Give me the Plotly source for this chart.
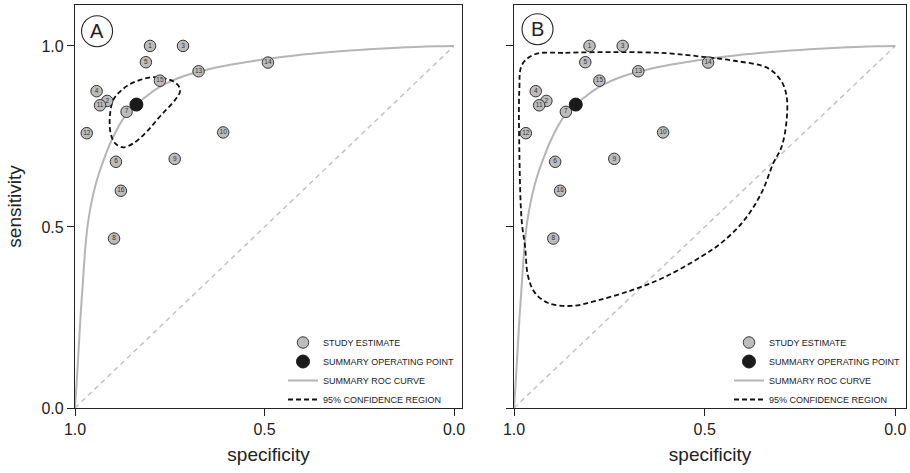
import plotly.graph_objects as go

# ---------------- data ----------------
study_ids = [str(i) for i in range(1, 17)]
study_spec = [0.802, 0.915, 0.715, 0.943, 0.813, 0.892, 0.864, 0.897,
              0.737, 0.609, 0.934, 0.969, 0.674, 0.491, 0.776, 0.879]
study_sens = [1.000, 0.848, 1.000, 0.875, 0.955, 0.680, 0.818, 0.468,
              0.688, 0.761, 0.836, 0.759, 0.930, 0.954, 0.904, 0.600]

summary_spec = [0.838]
summary_sens = [0.838]

roc_spec = [1.0, 0.995, 0.990, 0.985, 0.979, 0.973, 0.966, 0.957, 0.946, 0.933,
            0.919, 0.904, 0.887, 0.867, 0.838, 0.815, 0.790, 0.760, 0.730,
            0.700, 0.650, 0.600, 0.550, 0.500, 0.450, 0.400, 0.350, 0.300,
            0.250, 0.200, 0.150, 0.100, 0.050, 0.0]
roc_sens = [0.0, 0.080, 0.170, 0.260, 0.350, 0.440, 0.510, 0.565, 0.615, 0.660,
            0.700, 0.738, 0.774, 0.808, 0.838, 0.858, 0.878, 0.896, 0.910,
            0.921, 0.935, 0.946, 0.955, 0.963, 0.970, 0.976, 0.981, 0.985,
            0.989, 0.992, 0.995, 0.997, 0.999, 1.0]

# 95% confidence region, panel A
crA_spec = [0.828, 0.793, 0.749, 0.727, 0.723, 0.736, 0.776, 0.811, 0.846,
            0.873, 0.894, 0.906, 0.908, 0.899, 0.881, 0.859, 0.828]
crA_sens = [0.906, 0.914, 0.906, 0.890, 0.874, 0.851, 0.805, 0.763, 0.731,
            0.720, 0.731, 0.759, 0.805, 0.851, 0.874, 0.892, 0.906]

# 95% confidence region, panel B
crB_spec = [0.945, 0.865, 0.734, 0.602, 0.505, 0.422, 0.333, 0.298, 0.285,
            0.285, 0.298, 0.320, 0.351, 0.396, 0.456, 0.509, 0.602, 0.689,
            0.778, 0.848, 0.910, 0.945, 0.963, 0.971, 0.980, 0.986, 0.986,
            0.979, 0.945]
crB_sens = [0.977, 0.981, 0.983, 0.980, 0.970, 0.959, 0.938, 0.901, 0.860,
            0.796, 0.722, 0.676, 0.594, 0.519, 0.456, 0.418, 0.363, 0.326,
            0.298, 0.282, 0.290, 0.318, 0.363, 0.446, 0.519, 0.713, 0.878,
            0.948, 0.977]

chance_spec = [1.0, 0.0]
chance_sens = [0.0, 1.0]

x_ticks = [1.0, 0.5, 0.0]
x_ticktext = ["1.0", "0.5", "0.0"]
y_ticks = [0.0, 0.5, 1.0]
y_ticktext = ["0.0", "0.5", "1.0"]

legend_labels = ["STUDY ESTIMATE", "SUMMARY OPERATING POINT",
                 "SUMMARY ROC CURVE", "95% CONFIDENCE REGION"]
panel_labels = ["A", "B"]

# ---------------- styling ----------------
FONT = "Liberation Sans, Arial, Helvetica, sans-serif"
INK = "#222222"
GREY_FILL = "#bcbcbc"
CURVE_GREY = "#b5b5b5"

fig = go.Figure()

panels = [
    dict(xa="x", ya="y", legend="legend", cr_spec=crA_spec, cr_sens=crA_sens),
    dict(xa="x2", ya="y2", legend="legend2", cr_spec=crB_spec, cr_sens=crB_sens),
]

for p in panels:
    xa, ya, lg = p["xa"], p["ya"], p["legend"]
    # chance diagonal
    fig.add_trace(go.Scatter(x=chance_spec, y=chance_sens, mode="lines",
                             line=dict(color="#c4c4c4", width=1.5, dash="5px,4px"),
                             xaxis=xa, yaxis=ya, showlegend=False, hoverinfo="skip"))
    # summary ROC curve
    fig.add_trace(go.Scatter(x=roc_spec, y=roc_sens, mode="lines",
                             line=dict(color=CURVE_GREY, width=2, shape="spline", smoothing=0.8),
                             name=legend_labels[2], legend=lg, legendrank=3,
                             xaxis=xa, yaxis=ya))
    # confidence region
    fig.add_trace(go.Scatter(x=p["cr_spec"], y=p["cr_sens"], mode="lines",
                             line=dict(color="#111111", width=1.8, dash="5px,3px",
                                       shape="spline", smoothing=1.0),
                             name=legend_labels[3], legend=lg, legendrank=4,
                             xaxis=xa, yaxis=ya))
    # study estimates
    fig.add_trace(go.Scatter(x=study_spec, y=study_sens, mode="markers",
                             marker=dict(size=11.5, color=GREY_FILL,
                                         line=dict(color="#333333", width=1)),
                             name=legend_labels[0], legend=lg, legendrank=1,
                             xaxis=xa, yaxis=ya))
    fig.add_trace(go.Scatter(x=study_spec, y=study_sens, mode="text",
                             text=study_ids, textposition="middle center",
                             textfont=dict(size=6.5, color="#333333", family=FONT),
                             xaxis=xa, yaxis=ya, showlegend=False, hoverinfo="skip"))
    # summary operating point
    fig.add_trace(go.Scatter(x=summary_spec, y=summary_sens, mode="markers",
                             marker=dict(size=13, color="#1a1a1a",
                                         line=dict(color="#1a1a1a", width=1)),
                             name=legend_labels[1], legend=lg, legendrank=2,
                             xaxis=xa, yaxis=ya))

W, H = 910, 473
y_dom = [1 - 408 / H, 1 - 5 / H]

axis_common = dict(
    showgrid=False, zeroline=False, showline=True, mirror=True,
    linecolor=INK, linewidth=1.3, ticks="outside", ticklen=7, tickwidth=1.2,
    tickcolor=INK, tickfont=dict(size=16, color=INK, family=FONT),
    automargin=False,
)

fig.update_layout(
    width=W, height=H,
    margin=dict(l=0, r=0, t=0, b=0),
    paper_bgcolor="white", plot_bgcolor="white",
    font=dict(family=FONT, color=INK),
    xaxis=dict(domain=[75 / W, 462 / W], range=[1.0, -0.021], anchor="y",
               tickvals=x_ticks, ticktext=x_ticktext,
               title=dict(text="specificity", font=dict(size=19, color=INK, family=FONT), standoff=10),
               **axis_common),
    yaxis=dict(domain=y_dom, range=[0.0, 1.113], anchor="x",
               tickvals=y_ticks, ticktext=y_ticktext,
               title=dict(text="sensitivity", font=dict(size=19, color=INK, family=FONT), standoff=14),
               **axis_common),
    xaxis2=dict(domain=[514 / W, 906 / W], range=[1.0, -0.028], anchor="y2",
                tickvals=x_ticks, ticktext=x_ticktext,
                title=dict(text="specificity", font=dict(size=19, color=INK, family=FONT), standoff=10),
                **axis_common),
    yaxis2=dict(domain=y_dom, range=[0.0, 1.113], anchor="x2",
                tickvals=y_ticks, ticktext=y_ticktext, showticklabels=False,
                **axis_common),
    legend=dict(x=283 / W, y=1 - 328 / H, xanchor="left", yanchor="top",
                bgcolor="rgba(0,0,0,0)", borderwidth=0,
                font=dict(size=9, color=INK, family=FONT), itemwidth=30),
    legend2=dict(x=729 / W, y=1 - 328 / H, xanchor="left", yanchor="top",
                 bgcolor="rgba(0,0,0,0)", borderwidth=0,
                 font=dict(size=9, color=INK, family=FONT), itemwidth=30),
)

# panel letters in circles
for ax_suffix, lbl, (cx, cy) in zip(["", "2"], panel_labels, [(0.057, 0.935), (0.060, 0.940)]):
    fig.add_shape(type="circle", xref=f"x{ax_suffix} domain", yref=f"y{ax_suffix} domain",
                  xsizemode="pixel", ysizemode="pixel", xanchor=cx, yanchor=cy,
                  x0=-15.5, x1=15.5, y0=-15.5, y1=15.5,
                  line=dict(color=INK, width=1.1), fillcolor="rgba(0,0,0,0)")
    fig.add_annotation(text=lbl, xref=f"x{ax_suffix} domain", yref=f"y{ax_suffix} domain",
                       x=cx, y=cy, showarrow=False, xanchor="center", yanchor="middle",
                       font=dict(size=20, color=INK, family=FONT))

fig.write_html("out.html")
